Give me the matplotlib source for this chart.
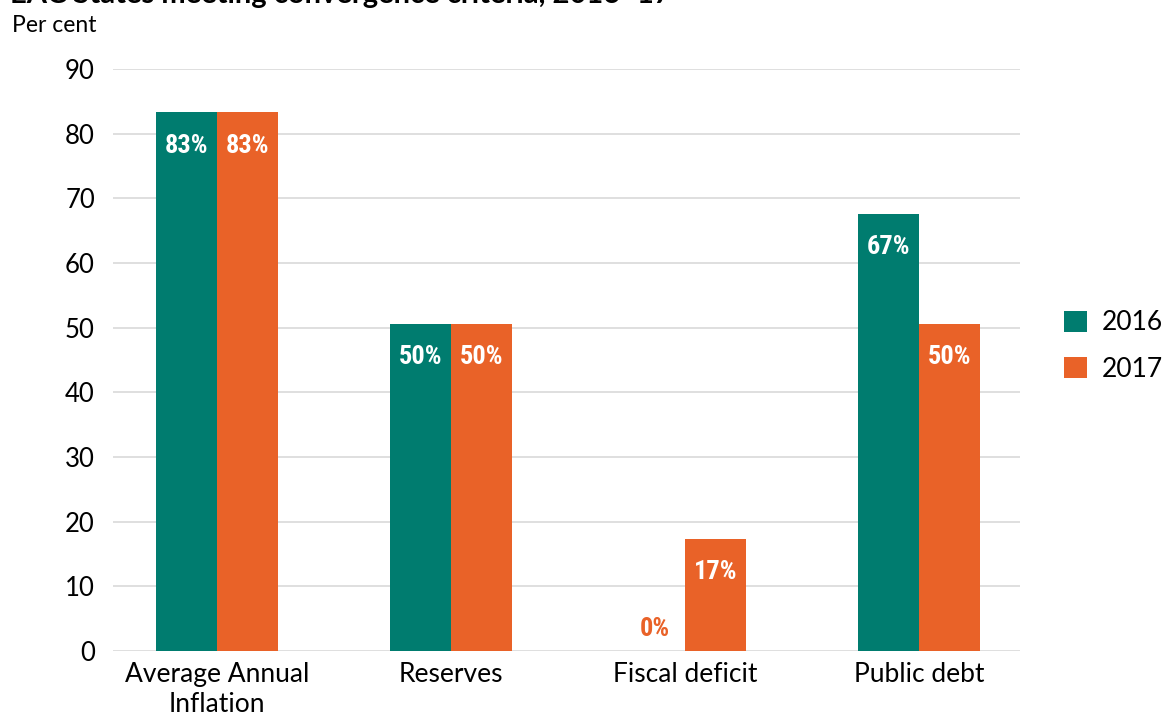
import numpy as np
import matplotlib.pyplot as plt

# Data
categories = ['Average Annual\nInflation', 'Reserves', 'Fiscal deficit', 'Public debt']
values_2016 = [83.3, 50.6, 0.0, 67.6]
values_2017 = [83.3, 50.6, 17.3, 50.6]
labels_2016 = ['83%', '50%', '0%', '67%']
labels_2017 = ['83%', '50%', '17%', '50%']
series_names = ['2016', '2017']

teal = '#007C6F'
orange = '#E96228'

plt.rcParams['font.family'] = ['Lato', 'DejaVu Sans']

fig = plt.figure(figsize=(11.65, 7.15), dpi=100)
ax = fig.add_axes([113 / 1165, 1 - 651 / 715, 907 / 1165, 582 / 715])

x = np.arange(len(categories))
w = 0.26
b1 = ax.bar(x - w / 2, values_2016, w, color=teal, label=series_names[0], zorder=3)
b2 = ax.bar(x + w / 2, values_2017, w, color=orange, label=series_names[1], zorder=3)

# data labels
lab_font = dict(family=['Roboto Condensed', 'Open Sans Condensed', 'Roboto', 'DejaVu Sans'],
                fontweight='bold', fontsize=19)
for bars, labs in [(b1, labels_2016), (b2, labels_2017)]:
    for rect, lab in zip(bars, labs):
        cx = rect.get_x() + rect.get_width() / 2
        h = rect.get_height()
        if h > 0:
            ax.annotate(lab, (cx, h), xytext=(0, -24), textcoords='offset points',
                        ha='center', va='center', color='white', zorder=4, **lab_font)
        else:
            ax.annotate(lab, (cx, 0), xytext=(0, 16), textcoords='offset points',
                        ha='center', va='center', color=orange, zorder=4, **lab_font)

ax.set_ylim(0, 90)
ax.set_yticks(np.arange(0, 91, 10))
ax.set_xlim(-0.445, 3.43)
ax.set_xticks(x)
ax.set_xticklabels(categories, fontsize=19, linespacing=1.22)
ax.tick_params(axis='y', labelsize=18.5, length=0, pad=13)
ax.tick_params(axis='x', length=0, pad=8)
ax.grid(axis='y', color='#dcdcdc', linewidth=1.3, zorder=0)
for s in ax.spines.values():
    s.set_visible(False)

fig.text(10 / 1165, 1 - 3 / 715, 'EAC States meeting convergence criteria, 2016\u201317',
         fontsize=21, fontweight='bold', va='baseline', ha='left')
fig.text(12 / 1165, 1 - 25 / 715, 'Per cent', fontsize=16.5, va='center', ha='left')

fig.legend(loc='center left', bbox_to_anchor=(1064 / 1165, 1 - 346 / 715), frameon=False,
           fontsize=19, handlelength=0.87, handleheight=0.87, handletextpad=0.57,
           labelspacing=0.8, borderpad=0, borderaxespad=0)

fig.savefig('out.png', dpi=100)
